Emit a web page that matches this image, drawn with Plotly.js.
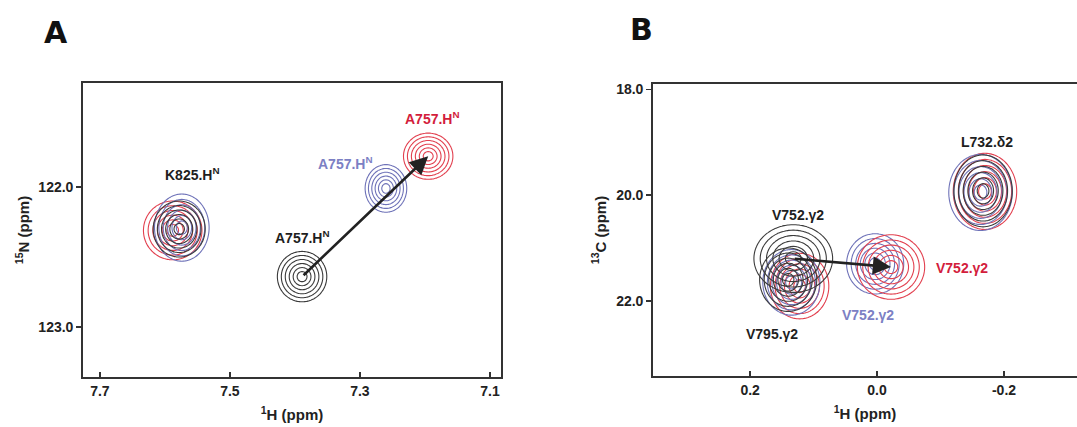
<!DOCTYPE html>
<html><head><meta charset="utf-8">
<script src="https://cdn.plot.ly/plotly-3.0.1.min.js"></script>
<style>html,body{margin:0;padding:0;background:#fff}#chart{width:1077px;height:427px}</style>
</head><body><div id="chart"></div>
<script>
// ---------- Panel A: 1H-15N peaks ----------
const aPeakName  = ['K825', 'K825', 'K825', 'A757', 'A757', 'A757'];
const aPeakState = ['S3', 'S2', 'S1', 'S1', 'S2', 'S3'];
const aPeakH     = [7.588, 7.574, 7.578, 7.389, 7.260, 7.195];
const aPeakN     = [122.31, 122.29, 122.30, 122.64, 122.01, 121.78];
const aPeakWH    = [0.045, 0.042, 0.040, 0.038, 0.032, 0.038];
const aPeakWN    = [0.21, 0.24, 0.20, 0.18, 0.17, 0.165];
const aXTicks = [7.7, 7.5, 7.3, 7.1];
const aXTickText = ['7.7', '7.5', '7.3', '7.1'];
const aYTicks = [122.0, 123.0];
const aYTickText = ['122.0', '123.0'];

// ---------- Panel B: 1H-13C methyl peaks ----------
const bPeakName  = ['L732', 'L732', 'L732', 'V795', 'V795', 'V795', 'V752', 'V752', 'V752'];
const bPeakState = ['S3', 'S2', 'S1', 'S3', 'S2', 'S1', 'S1', 'S2', 'S3'];
const bPeakH     = [-0.170, -0.163, -0.167, 0.122, 0.135, 0.140, 0.132, 0.003, -0.022];
const bPeakC     = [19.93, 19.95, 19.92, 21.72, 21.65, 21.60, 21.20, 21.30, 21.36];
const bPeakWH    = [0.050, 0.050, 0.046, 0.046, 0.045, 0.045, 0.062, 0.045, 0.053];
const bPeakWC    = [0.72, 0.72, 0.68, 0.62, 0.62, 0.60, 0.64, 0.57, 0.61];
const bXTicks = [0.2, 0.0, -0.2];
const bXTickText = ['0.2', '0.0', '-0.2'];
const bYTicks = [18.0, 20.0, 22.0];
const bYTickText = ['18.0', '20.0', '22.0'];

// ---------- styles ----------
const stateColor = {S1: '#3b3b3b', S2: '#6e72b8', S3: '#e2404f'};
const labelColor = {S1: '#1e1e1e', S2: '#7c80c4', S3: '#d31d3c'};
const FONT = 'Liberation Sans, Arial, sans-serif';

function peakTrace(cx, cy, wx, wy, color, xa, ya) {
  const n = 49, xs = [], ys = [], z = [];
  for (let i = 0; i < n; i++) xs.push(cx - 1.4 * wx + 2.8 * wx * i / (n - 1));
  for (let j = 0; j < n; j++) ys.push(cy - 1.4 * wy + 2.8 * wy * j / (n - 1));
  for (let j = 0; j < n; j++) {
    const row = [];
    for (let i = 0; i < n; i++) {
      const dx = (xs[i] - cx) / wx, dy = (ys[j] - cy) / wy;
      row.push(-Math.sqrt(dx * dx + dy * dy));
    }
    z.push(row);
  }
  return {
    type: 'contour', x: xs, y: ys, z: z, xaxis: xa, yaxis: ya,
    showscale: false, hoverinfo: 'skip',
    contours: {coloring: 'lines', start: -1.0, end: -0.2, size: 0.16},
    colorscale: [[0, color], [1, color]],
    line: {width: 1.1, smoothing: 1}
  };
}

const traces = [];
aPeakH.forEach((h, i) => traces.push(peakTrace(h, aPeakN[i], aPeakWH[i], aPeakWN[i], stateColor[aPeakState[i]], 'x', 'y')));
bPeakH.forEach((h, i) => traces.push(peakTrace(h, bPeakC[i], bPeakWH[i], bPeakWC[i], stateColor[bPeakState[i]], 'x2', 'y2')));

function idx(names, states, n, s) { return names.findIndex((v, k) => v === n && states[k] === s); }

const tickFont = {family: FONT, size: 14, color: '#222', weight: 700};
const titleFont = {family: FONT, size: 15, color: '#222', weight: 700};
const lblFont = (s) => ({family: FONT, size: 14, color: labelColor[s], weight: 700});

const aS1 = idx(aPeakName, aPeakState, 'A757', 'S1');
const aS3 = idx(aPeakName, aPeakState, 'A757', 'S3');
const bS1 = idx(bPeakName, bPeakState, 'V752', 'S1');
const bS3 = idx(bPeakName, bPeakState, 'V752', 'S3');

const letterFont = {family: 'DejaVu Sans, sans-serif', size: 30, color: '#111', weight: 900};
const annotations = [
  {xref: 'paper', yref: 'paper', x: 56 / 1077, y: 1 - 33 / 427, xanchor: 'center', yanchor: 'middle',
   text: 'A', showarrow: false, font: letterFont},
  {xref: 'paper', yref: 'paper', x: 641 / 1077, y: 1 - 30 / 427, xanchor: 'center', yanchor: 'middle',
   text: 'B', showarrow: false, font: letterFont},
  // arrows
  {xref: 'x', yref: 'y', axref: 'x', ayref: 'y', x: aPeakH[aS3], y: aPeakN[aS3], ax: aPeakH[aS1], ay: aPeakN[aS1],
   showarrow: true, arrowhead: 2, arrowsize: 1.4, arrowwidth: 2.6, arrowcolor: '#222', standoff: 0, startstandoff: 0, text: ''},
  {xref: 'x2', yref: 'y2', axref: 'x2', ayref: 'y2', x: bPeakH[bS3], y: bPeakC[bS3], ax: bPeakH[bS1], ay: bPeakC[bS1],
   showarrow: true, arrowhead: 2, arrowsize: 1.4, arrowwidth: 2.6, arrowcolor: '#222', standoff: 0, startstandoff: 0, text: ''},
  // labels A
  {xref: 'x', yref: 'y', x: 7.557, y: 121.907, text: 'K825.H<sup>N</sup>', showarrow: false, font: lblFont('S1')},
  {xref: 'x', yref: 'y', x: 7.3215, y: 121.829, text: 'A757.H<sup>N</sup>', showarrow: false, font: lblFont('S2')},
  {xref: 'x', yref: 'y', x: 7.188, y: 121.507, text: 'A757.H<sup>N</sup>', showarrow: false, font: lblFont('S3')},
  {xref: 'x', yref: 'y', x: 7.388, y: 122.357, text: 'A757.H<sup>N</sup>', showarrow: false, font: lblFont('S1')},
  // labels B
  {xref: 'x2', yref: 'y2', x: -0.173, y: 18.99, text: 'L732.δ2', showarrow: false, font: lblFont('S1')},
  {xref: 'x2', yref: 'y2', x: 0.124, y: 20.37, text: 'V752.γ2', showarrow: false, font: lblFont('S1')},
  {xref: 'x2', yref: 'y2', x: -0.134, y: 21.38, text: 'V752.γ2', showarrow: false, font: lblFont('S3')},
  {xref: 'x2', yref: 'y2', x: 0.014, y: 22.26, text: 'V752.γ2', showarrow: false, font: lblFont('S2')},
  {xref: 'x2', yref: 'y2', x: 0.165, y: 22.62, text: 'V795.γ2', showarrow: false, font: lblFont('S1')}
];

const axBase = {showgrid: false, zeroline: false, showline: true, linecolor: '#333', linewidth: 1.8,
  tickcolor: '#333', tickwidth: 1.3, ticklen: 5, tickfont: tickFont, fixedrange: true, tickmode: 'array'};

const layout = {
  width: 1077, height: 427, margin: {l: 0, r: 0, t: 0, b: 0},
  paper_bgcolor: '#fff', plot_bgcolor: '#fff', showlegend: false,
  xaxis: Object.assign({}, axBase, {domain: [83 / 1077, 501 / 1077], range: [7.726, 7.083], anchor: 'y',
    tickvals: aXTicks, ticktext: aXTickText, ticks: 'inside', mirror: true,
    title: {text: '<sup>1</sup>H (ppm)', font: titleFont, standoff: 12}}),
  yaxis: Object.assign({}, axBase, {domain: [1 - 377 / 427, 1 - 83 / 427], range: [123.357, 121.257], anchor: 'x',
    tickvals: aYTicks, ticktext: aYTickText, ticks: 'outside', mirror: true,
    title: {text: '<sup>15</sup>N (ppm)', font: titleFont, standoff: 5}}),
  xaxis2: Object.assign({}, axBase, {domain: [653 / 1077, 1], range: [0.353, -0.315], anchor: 'y2',
    tickvals: bXTicks, ticktext: bXTickText, ticks: 'inside', mirror: true,
    title: {text: '<sup>1</sup>H (ppm)', font: titleFont, standoff: 12}}),
  yaxis2: Object.assign({}, axBase, {domain: [1 - 376 / 427, 1 - 84 / 427], range: [23.42, 17.9], anchor: 'x2',
    tickvals: bYTicks, ticktext: bYTickText, ticks: 'outside', mirror: false,
    title: {text: '<sup>13</sup>C (ppm)', font: titleFont, standoff: 6}}),
  annotations: annotations
};

Plotly.newPlot('chart', traces, layout, {displayModeBar: false, staticPlot: true});
</script>
</body></html>
